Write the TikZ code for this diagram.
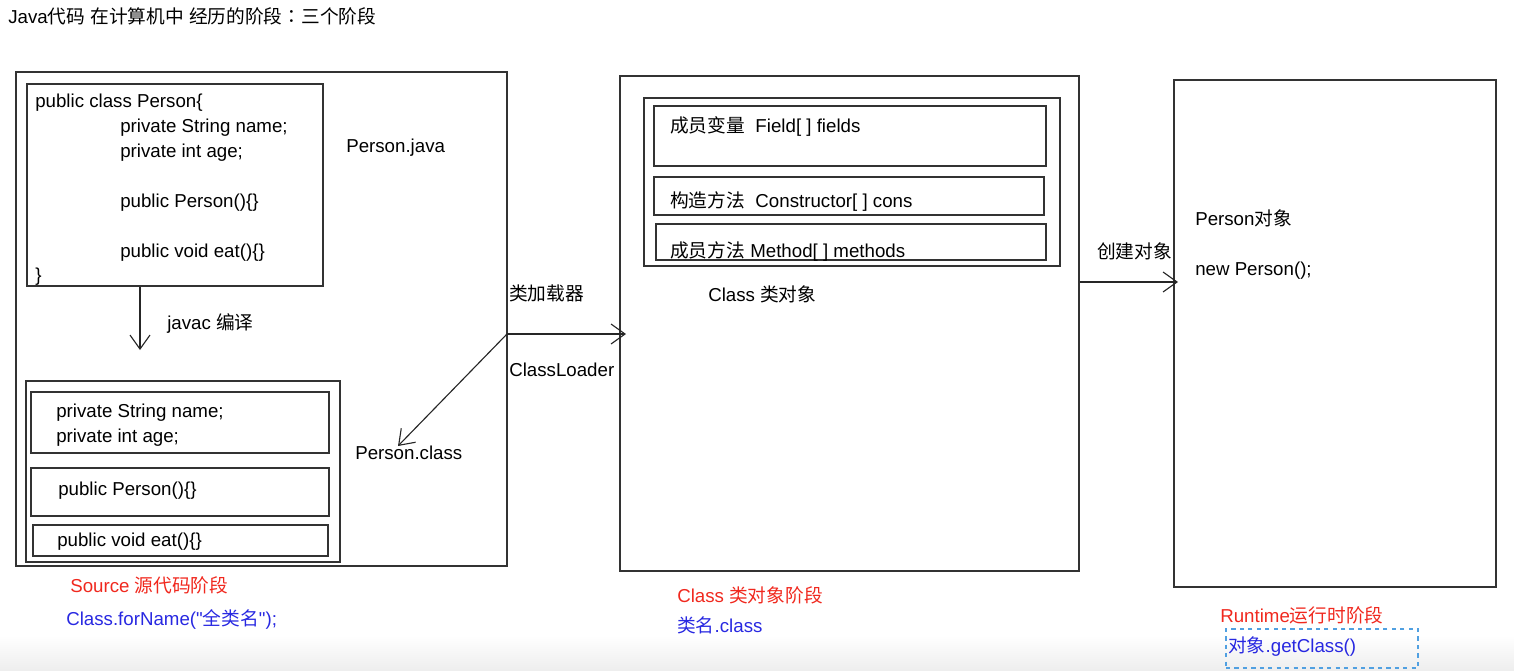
\documentclass[tikz,border=0pt]{standalone}
\usepackage{fontspec}
\setmainfont{Liberation Sans}
\newfontfamily\rawfont{Liberation Sans}[Ligatures=ResetAll]
\newfontfamily\zhfont{Noto Sans CJK SC}
\newfontfamily\zhpunct{Noto Sans CJK TC}
\newcommand\zh[1]{{\zhfont #1}}
\newcommand\dq{{\rawfont\symbol{34}}}
\usetikzlibrary{arrows.meta,fit}
\definecolor{stagered}{RGB}{240,40,30}
\definecolor{apiblue}{RGB}{40,40,225}
\definecolor{selblue}{RGB}{80,160,225}
\tikzset{
  box/.style={draw=black!80, line width=1pt, inner sep=0pt},
  txt/.style={anchor=base west, inner sep=0pt},
  flow/.style={draw=black!85, line width=0.8pt, -{Straight Barb[length=3.5mm,width=5mm]}},
}
\begin{document}
\begin{tikzpicture}[x=0.025cm, y=-0.025cm, font=\fontsize{13.3}{16}\selectfont]
  \useasboundingbox (0,0) rectangle (1514,671);
  % screen band at the bottom
  \shade[top color=white, bottom color=black!7] (0,636) rectangle (1514,671);

  % Title
  \node[txt] (title) at (8,23) {Java\zh{代码} \zh{在计算机中} \zh{经历的阶段}{\zhpunct ：}\zh{三个阶段}};

  % Source stage: outer box
  \node[box, fit={(16,72) (507,566)}] (src) {};
  % source code box
  \node[box, fit={(27,84) (323,286)}] (code) {};
  \node[txt] (code1) at (35,107) {public class Person\{};
  \node[txt] (code2) at (120,132) {private String name;};
  \node[txt] (code3) at (120,157) {private int age;};
  \node[txt] (code4) at (120,207) {public Person()\{\}};
  \node[txt] (code5) at (120,257) {public void eat()\{\}};
  \node[txt] (code6) at (35,281) {\}};
  \node[txt] (pjava) at (346,152) {Person.java};

  % javac arrow
  \coordinate (jv) at (140,350);
  \draw[flow] (jv |- code.south) -- (jv);
  \node[txt] (javac) at (167,329) {javac \zh{编译}};

  % bytecode box
  \node[box, fit={(26,381) (340,562)}] (byte) {};
  \node[box, fit={(31,392) (329,453)}] (bfield) {};
  \node[box, fit={(31,468) (329,516)}] (bcons) {};
  \node[box, fit={(33,525) (328,556)}] (bmeth) {};
  \node[txt] (bf1) at (56,417) {private String name;};
  \node[txt] (bf2) at (56,442) {private int age;};
  \node[txt] (bc1) at (58,495) {public Person()\{\}};
  \node[txt] (bm1) at (57,546) {public void eat()\{\}};
  \node[txt] (pclass) at (355,459) {Person.class};

  % stage labels
  \node[txt, text=stagered] (srcstage) at (70,592) {Source \zh{源代码阶段}};
  \node[txt, text=apiblue] (srcapi) at (66,625) {Class.forName(\dq\zh{全类名}\dq);};

  % Class object stage
  \node[box, fit={(620,76) (1079,571)}] (cls) {};
  \node[box, fit={(644,98) (1060,266)}] (clsin) {};
  \node[box, fit={(654,106) (1046,166)}] (cfield) {};
  \node[box, fit={(654,177) (1044,215)}] (ccons) {};
  \node[box, fit={(656,224) (1046,260)}] (cmeth) {};
  \node[txt] (cf1) at (670,132) {\zh{成员变量}~~Field[ ] fields};
  \node[txt] (cc1) at (670,207) {\zh{构造方法}~~Constructor[ ] cons};
  \node[txt] (cm1) at (670,257) {\zh{成员方法} Method[ ] methods};
  \node[txt] (clsobj) at (708,301) {Class \zh{类对象}};

  % class loader arrows
  \coordinate (ldr) at (507,334);
  \coordinate (ldin) at (626,334);
  \coordinate (ldback) at (398,446);
  \draw[flow] (ldr) -- (ldin);
  \draw[flow] (ldr) -- (ldback);
  \node[txt] (loadzh) at (509,300) {\zh{类加载器}};
  \node[txt] (loaden) at (509,376) {ClassLoader};

  \node[txt, text=stagered] (clsstage) at (677,602) {Class \zh{类对象阶段}};
  \node[txt, text=apiblue] (clsapi) at (677,632) {\zh{类名}.class};

  % Runtime stage
  \node[box, fit={(1174,80) (1496,587)}] (run) {};
  \node[txt] (pobj) at (1195,225) {Person\zh{对象}};
  \node[txt] (pnew) at (1195,275) {new Person();};

  % create object arrow
  \coordinate (mk) at (1178,282);
  \draw[flow] (mk -| cls.east) -- (mk);
  \node[txt] (mkobj) at (1097,258) {\zh{创建对象}};

  \node[txt, text=stagered] (runstage) at (1220,622) {Runtime\zh{运行时阶段}};
  \node[txt, text=apiblue] (runapi) at (1228,652) {\zh{对象}.getClass()};
  \node[draw=selblue, dashed, line width=0.8pt, inner sep=0pt, fit={(1226,629) (1418,668)}] (sel) {};
\end{tikzpicture}
\end{document}
